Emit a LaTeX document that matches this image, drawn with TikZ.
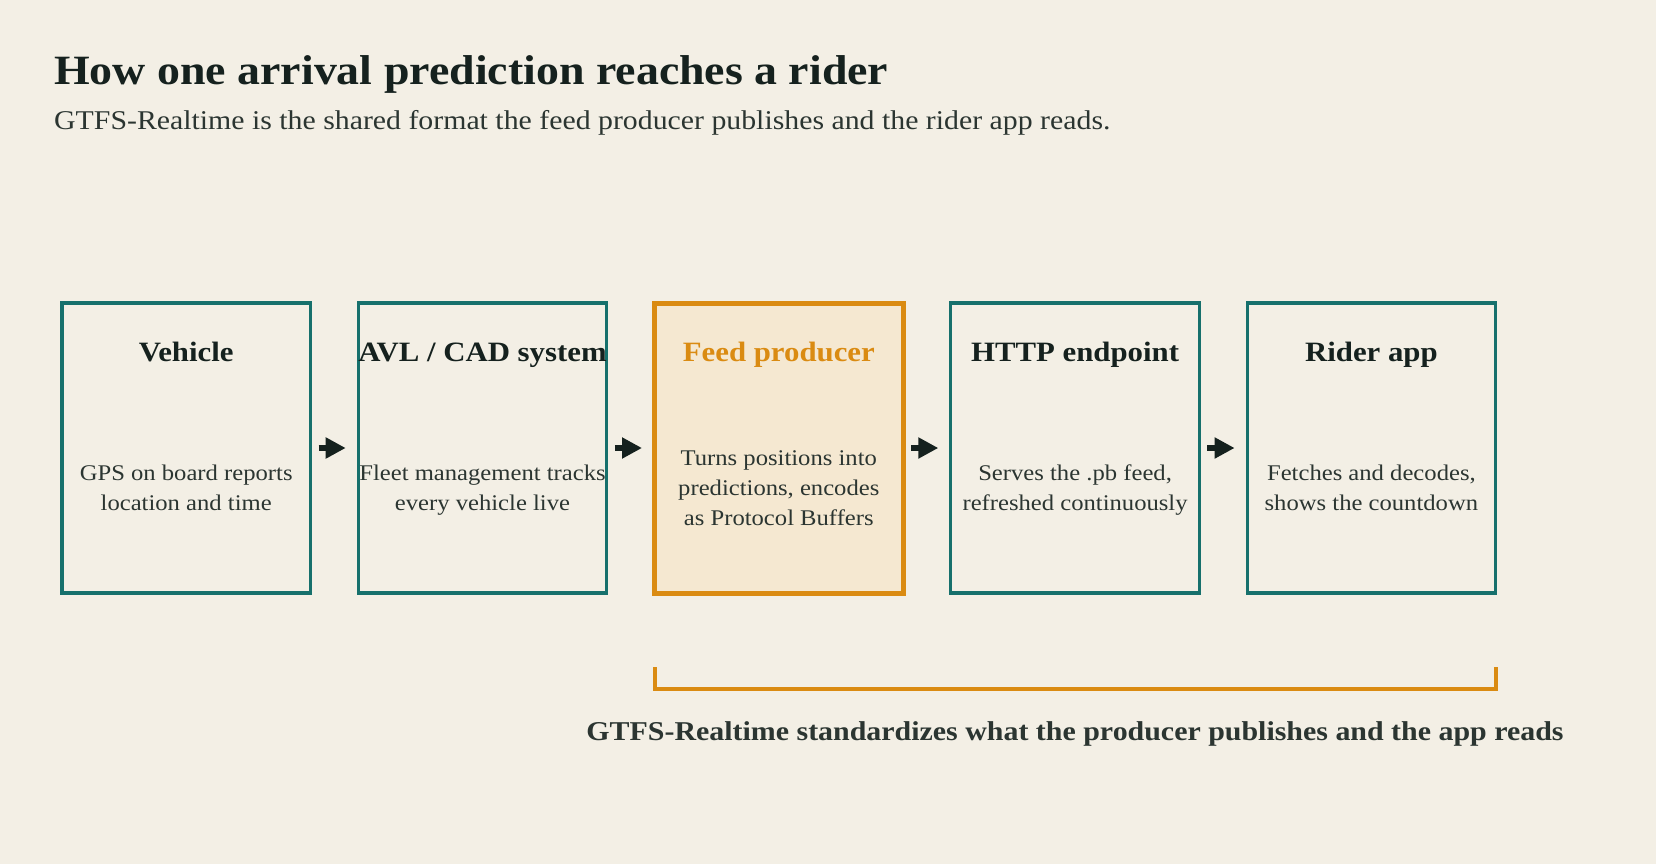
\documentclass[tikz,border=0pt]{standalone}
\usepackage{fontspec}
\setmainfont{Liberation Serif}[FakeStretch=1.1]
\usetikzlibrary{arrows.meta,calc}
\definecolor{bg}{HTML}{F3EFE5}
\definecolor{teal}{HTML}{16706C}
\definecolor{orng}{HTML}{DA8B12}
\definecolor{feedfill}{HTML}{F5E8D1}
\definecolor{ink}{HTML}{15211E}
\definecolor{body}{HTML}{2B3531}
\tikzset{
  box/.style={draw=teal, line width=3.2pt, minimum width=248.6pt, minimum height=290pt, inner sep=0pt, outer sep=0pt},
  hibox/.style={box, draw=orng, line width=5pt, fill=feedfill},
  ttl/.style={anchor=base, inner sep=0pt, text=ink, font=\fontsize{28}{34}\selectfont\bfseries},
  dsc/.style={anchor=center, inner sep=0pt, align=center, text=body, font=\fontsize{22.4}{29.8}\selectfont},
  arr/.style={draw=ink, line width=5.5pt, -{Triangle[length=20pt,width=20pt]}},
  brk/.style={draw=orng, line width=4pt},
}
\begin{document}
\begin{tikzpicture}[x=1pt,y=-1pt]
\fill[bg] (0,0) rectangle (1656,864);
\useasboundingbox (0,0) rectangle (1656,864);

\node[anchor=base west, inner sep=0pt, text=ink, font=\fontsize{41.7}{48}\selectfont\bfseries] (title) at (54,84.3) {How one arrival prediction reaches a rider};
\node[anchor=base west, inner sep=0pt, text=body, font=\fontsize{27.1}{32}\selectfont] (sub) at (54,130) {GTFS-Realtime is the shared format the feed producer publishes and the rider app reads.};

\node[box] (b1) at (186.2,448) {};
\node[box] (b2) at (482.5,448) {};
\node[hibox] (b3) at (778.8,448) {};
\node[box] (b4) at (1075.1,448) {};
\node[box] (b5) at (1371.4,448) {};

\node[ttl] (t1) at (186.2,361.7) {Vehicle};
\node[ttl] (t2) at (482.5,361.7) {AVL / CAD system};
\node[ttl, text=orng] (t3) at (778.8,361.7) {Feed producer};
\node[ttl] (t4) at (1075.1,361.7) {HTTP endpoint};
\node[ttl] (t5) at (1371.4,361.7) {Rider app};

\node[dsc] (d1) at (186.2,489.3) {\strut GPS on board reports\\location and time\strut};
\node[dsc] (d2) at (482.5,489.3) {\strut Fleet management tracks\\every vehicle live\strut};
\node[dsc] (d3) at (778.8,489.3) {\strut Turns positions into\\predictions, encodes\\as Protocol Buffers\strut};
\node[dsc] (d4) at (1075.1,489.3) {\strut Serves the .pb feed,\\refreshed continuously\strut};
\node[dsc] (d5) at (1371.4,489.3) {\strut Fetches and decodes,\\shows the countdown\strut};

\draw[arr] ([xshift=8pt]b1.east) -- ([xshift=-12.5pt]b2.west);
\draw[arr] ([xshift=8pt]b2.east) -- ([xshift=-12.5pt]b3.west);
\draw[arr] ([xshift=8pt]b3.east) -- ([xshift=-12.5pt]b4.west);
\draw[arr] ([xshift=8pt]b4.east) -- ([xshift=-12.5pt]b5.west);

\coordinate (bl) at ($(b3.south west)+(0,74)$);
\coordinate (br) at ($(b5.south east)+(0,74)$);
\draw[brk] (bl) -- ++(0,21.7) -| (br);

\node[anchor=base, inner sep=0pt, text=body, font=\fontsize{27.2}{32}\selectfont\bfseries] (lbl) at (1075,740) {GTFS-Realtime standardizes what the producer publishes and the app reads};
\end{tikzpicture}
\end{document}
